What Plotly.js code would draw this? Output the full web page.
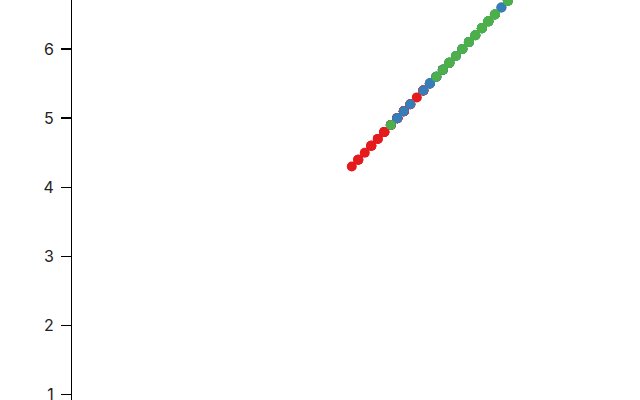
<!DOCTYPE html>
<html>
<head>
<meta charset="utf-8">
<script src="https://cdn.plot.ly/plotly-3.0.1.min.js"></script>
<style>
  html, body { margin: 0; padding: 0; background: #fff; }
  #plot { width: 640px; height: 400px; }
</style>
</head>
<body>
<div id="plot"></div>
<script>
// sepal length per species, plotted against itself
const setosa = [5.1, 4.9, 4.7, 4.6, 5.0, 5.4, 4.6, 5.0, 4.4, 4.9, 5.4, 4.8, 4.8, 4.3, 5.8, 5.7, 5.4, 5.1, 5.7, 5.1,
    5.4, 5.1, 4.6, 5.1, 4.8, 5.0, 5.0, 5.2, 5.2, 4.7, 4.8, 5.4, 5.2, 5.5, 4.9, 5.0, 5.5, 4.9, 4.4, 5.1,
    5.0, 4.5, 4.4, 5.0, 5.1, 4.8, 5.1, 4.6, 5.3, 5.0];
const versicolor = [7.0, 6.4, 6.9, 5.5, 6.5, 5.7, 6.3, 4.9, 6.6, 5.2, 5.0, 5.9, 6.0, 6.1, 5.6, 6.7, 5.6, 5.8, 6.2, 5.6,
    5.9, 6.1, 6.3, 6.1, 6.4, 6.6, 6.8, 6.7, 6.0, 5.7, 5.5, 5.5, 5.8, 6.0, 5.4, 6.0, 6.7, 6.3, 5.6, 5.5,
    5.5, 6.1, 5.8, 5.0, 5.6, 5.7, 5.7, 6.2, 5.1, 5.7];
const virginica = [6.3, 5.8, 7.1, 6.3, 6.5, 7.6, 4.9, 7.3, 6.7, 7.2, 6.5, 6.4, 6.8, 5.7, 5.8, 6.4, 6.5, 7.7, 7.7, 6.0,
    6.9, 5.6, 7.7, 6.3, 6.7, 7.2, 6.2, 6.1, 6.4, 7.2, 7.4, 7.9, 6.4, 6.3, 6.1, 7.7, 6.3, 6.4, 6.0, 6.9,
    6.7, 6.9, 5.8, 6.8, 6.7, 6.7, 6.3, 6.7, 6.5, 6.2, 5.9];

const species = ["setosa", "versicolor", "virginica"];
const colors = ["#e41a1c", "#377eb8", "#4daf4a"];
const yTicks = [1, 2, 3, 4, 5, 6];

const data = [setosa, versicolor, virginica].map((vals, i) => ({
    x: vals,
    y: vals,
    type: "scatter",
    mode: "markers",
    name: species[i],
    marker: { color: colors[i], size: 10, opacity: 1 },
    hoverinfo: "skip"
}));

const layout = {
    width: 640,
    height: 400,
    margin: { l: 72, r: 0, t: 0, b: 0, pad: 0 },
    showlegend: false,
    paper_bgcolor: "#fff",
    plot_bgcolor: "#fff",
    font: { family: "Inter, Liberation Sans, sans-serif", size: 16, color: "#222" },
    xaxis: {
        range: [0, 8.73],
        visible: false,
        showgrid: false,
        zeroline: false
    },
    yaxis: {
        range: [0.923, 6.709],
        tickvals: yTicks,
        ticktext: yTicks.map(String),
        showgrid: false,
        zeroline: false,
        showline: true,
        linecolor: "#000",
        linewidth: 1,
        ticks: "outside",
        ticklen: 10,
        tickwidth: 1.5,
        tickcolor: "#000",
        ticklabelstandoff: 4,
        ticklabeloverflow: "allow"
    }
};

Plotly.newPlot("plot", data, layout, { displayModeBar: false, staticPlot: true });
</script>
</body>
</html>
